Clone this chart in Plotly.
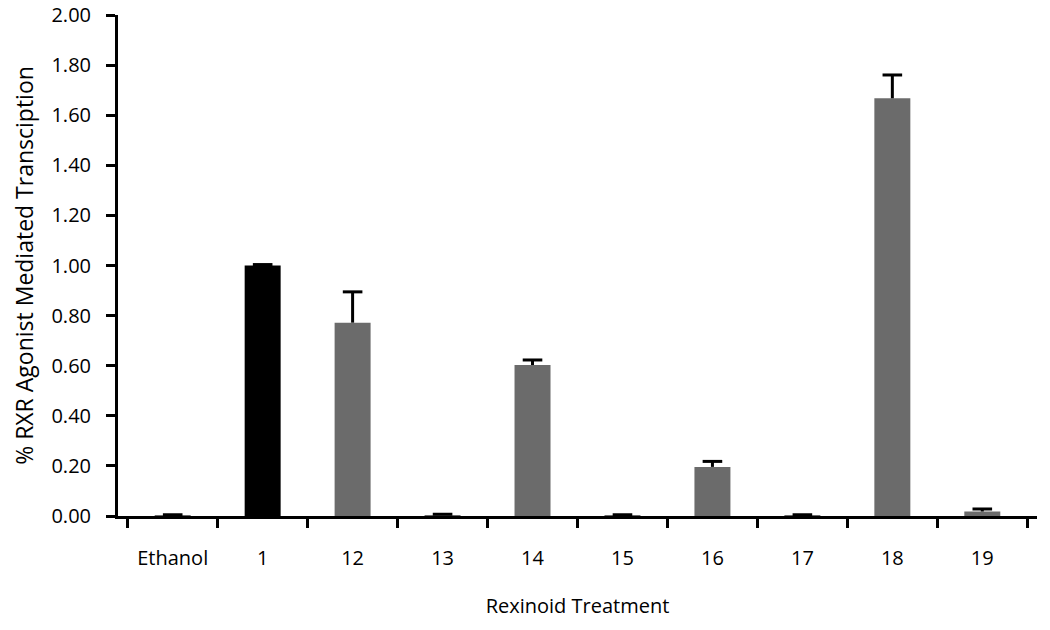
import plotly.graph_objects as go

categories = ["Ethanol", "1", "12", "13", "14", "15", "16", "17", "18", "19"]
values = [0.003, 1.00, 0.772, 0.004, 0.603, 0.003, 0.196, 0.003, 1.668, 0.018]
errors = [0.002, 0.004, 0.123, 0.003, 0.020, 0.002, 0.022, 0.002, 0.093, 0.010]
colors = ["#6b6b6b", "#000000", "#6b6b6b", "#6b6b6b", "#6b6b6b",
          "#6b6b6b", "#6b6b6b", "#6b6b6b", "#6b6b6b", "#6b6b6b"]
y_ticks = [0, 0.2, 0.4, 0.6, 0.8, 1.0, 1.2, 1.4, 1.6, 1.8, 2.0]
y_range = [0, 2.0005]

fig = go.Figure()
fig.add_trace(go.Bar(
    x=categories, y=values,
    marker=dict(color=colors, line=dict(width=0)),
    hoverinfo="x+y",
))

# upper-only error bars: stems from bar top to top of error, plus a cap
stem_x, stem_y = [], []
for c, v, e in zip(categories, values, errors):
    stem_x += [c, c, None]
    stem_y += [v, v + e, None]
fig.add_trace(go.Scatter(
    x=stem_x, y=stem_y, mode="lines",
    line=dict(color="#000000", width=3),
    hoverinfo="skip",
))
fig.add_trace(go.Scatter(
    x=categories, y=[v + e for v, e in zip(values, errors)], mode="markers",
    marker=dict(symbol="line-ew-open", size=14, color="#000000",
                line=dict(color="#000000", width=3)),
    hoverinfo="skip",
))
# invisible trace so the label-carrying overlay axis is rendered
fig.add_trace(go.Scatter(
    x=categories, y=values, yaxis="y2", mode="markers",
    marker=dict(opacity=0, size=1), hoverinfo="skip",
))

font = "Open Sans, Liberation Sans, Arial, sans-serif"
fig.update_layout(
    width=1050, height=630,
    margin=dict(l=104, r=13, t=15, b=114, autoexpand=False),
    paper_bgcolor="white", plot_bgcolor="white",
    bargap=0.6,
    showlegend=False,
    font=dict(family=font, color="#000000", size=20),
    xaxis=dict(
        domain=[0.015, 1],
        showline=True, linecolor="#000000", linewidth=2.5,
        ticks="outside", tickson="boundaries", ticklen=9, tickwidth=2.5,
        tickcolor="#000000",
        tickfont=dict(size=20), ticklabelstandoff=22,
        title=dict(text="Rexinoid Treatment", font=dict(size=20), standoff=30),
        showgrid=False, zeroline=False, automargin=False,
    ),
    # visible axis line and tick marks
    yaxis=dict(
        range=y_range, tickvals=y_ticks, showticklabels=False,
        showline=True, linecolor="#000000", linewidth=2.5,
        ticks="outside", ticklen=9, tickwidth=2.5, tickcolor="#000000",
        showgrid=False, zeroline=False, automargin=False,
    ),
    # overlay axis carrying tick labels (set further left) and title
    yaxis2=dict(
        overlaying="y", side="left", anchor="free", position=0,
        range=y_range, tickvals=y_ticks, tickformat=".2f",
        showline=False, ticks="outside", ticklen=9, tickwidth=2.5,
        tickcolor="rgba(0,0,0,0)",
        tickfont=dict(size=20), ticklabeloverflow="allow",
        title=dict(text="% RXR Agonist Mediated Transciption", font=dict(size=23), standoff=10),
        showgrid=False, zeroline=False, automargin=False,
    ),
)

fig.write_html("out.html", config={"displayModeBar": False},
               post_script="document.body.style.margin='0';")
